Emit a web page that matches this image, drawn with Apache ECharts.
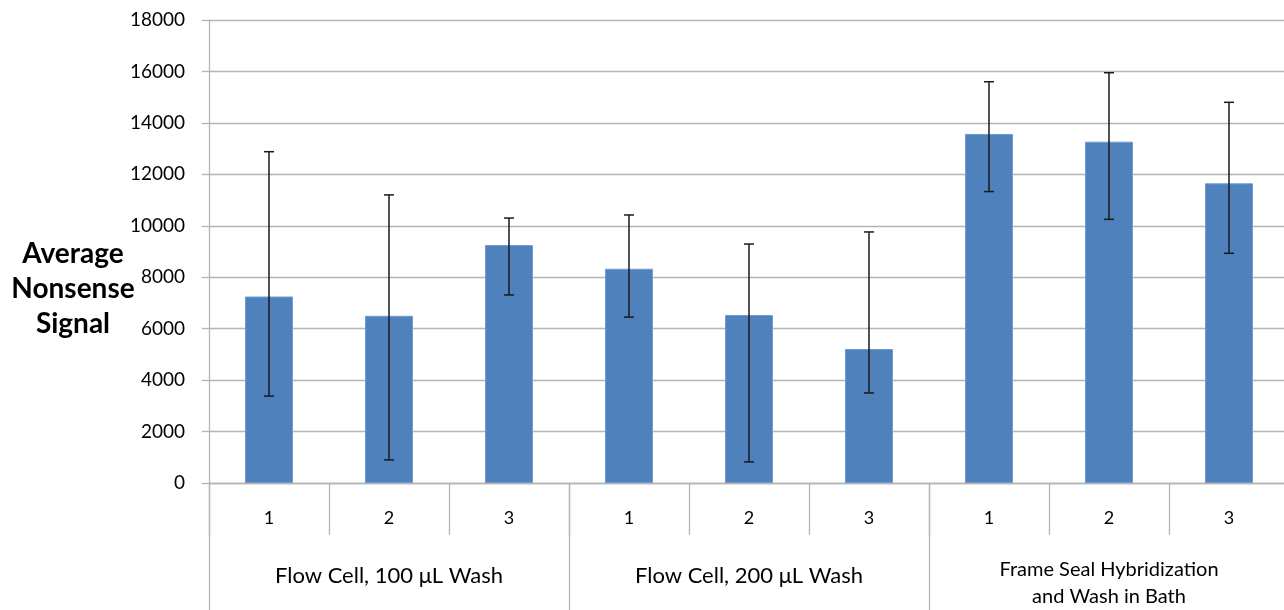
<!DOCTYPE html>
<html>
<head>
<meta charset="utf-8" />
<title></title>
<script type="text/javascript" src="https://cdn.jsdelivr.net/npm/echarts@6/dist/echarts.min.js"></script>
</head>
<body style="margin:0">
	<div id="chartmain" style="width: 1284px; height: 610px;"></div>
	<script type="text/javascript">
		// data
		var runs = ['1', '2', '3', '1', '2', '3', '1', '2', '3'];
		var groups = ['Flow Cell, 100 \u03bcL Wash', 'Flow Cell, 200 \u03bcL Wash', 'Frame Seal Hybridization\nand Wash in Bath'];
		var signal = [7250, 6500, 9250, 8330, 6530, 5210, 13570, 13270, 11650];
		var errHigh = [12880, 11200, 10300, 10420, 9290, 9760, 15600, 15950, 14800];
		var errLow = [3380, 900, 7310, 6450, 820, 3500, 11330, 10250, 8930];

		var grey = '#b4b4b4';

		var errData = signal.map(function (v, i) {
			return [i, errLow[i], errHigh[i]];
		});

		var option = {
			animation : false,
			grid : {
				left : 209,
				top : 20,
				width : 1080,
				height : 463,
				outerBoundsMode : 'none'
			},
			graphic : [ {
				type : 'text',
				x : 73,
				y : 236,
				style : {
					text : 'Average\nNonsense\nSignal',
					font : 'bold 28px Lato',
					lineHeight : 35,
					align : 'center',
					fill : '#000'
				}
			} ],
			xAxis : [ {
				type : 'category',
				data : runs,
				axisLine : { lineStyle : { color : grey, width : 1.3 } },
				axisTick : { show : true, length : 52, interval : 0, lineStyle : { color : grey, width : 1.3 } },
				axisLabel : { margin : 26, fontSize : 18, color : '#000', fontFamily : 'Lato' }
			}, {
				type : 'category',
				data : groups,
				position : 'bottom',
				axisLine : { show : false },
				axisTick : { show : true, length : 130, interval : 0, lineStyle : { color : grey, width : 1.3 } },
				axisLabel : {
					margin : 93,
					verticalAlign : 'middle',
					color : '#000',
					fontFamily : 'Lato',
					// two-line label sits a bit lower and smaller
					formatter : function (v) {
						if (v.indexOf('\n') < 0) return '{g|' + v + '}';
						return '{sp| }\n' + v.split('\n').map(function (s) { return '{s|' + s + '}'; }).join('\n');
					},
					rich : {
						g : { fontSize : 22, lineHeight : 27, fontFamily : 'Lato', color : '#000' },
						s : { fontSize : 20, lineHeight : 27, fontFamily : 'Lato', color : '#000' },
						sp : { fontSize : 8, lineHeight : 14 }
					}
				}
			} ],
			yAxis : [ {
				type : 'value',
				min : 0,
				max : 18000,
				interval : 2000,
				axisLine : { show : true, lineStyle : { color : grey, width : 1.3 } },
				axisTick : { show : true, length : 7, lineStyle : { color : grey, width : 1.3 } },
				axisLabel : { margin : 24, fontSize : 19, color : '#000', fontFamily : 'Lato', formatter : function (v) { return String(v); } },
				splitLine : { lineStyle : { color : grey, width : 1.3 } }
			} ],
			series : [ {
				type : 'bar',
				data : signal,
				barWidth : 48,
				itemStyle : { color : '#4f81bd', borderColor : '#6f9bd0', borderWidth : 1 }
			}, {
				type : 'custom',
				data : errData,
				z : 10,
				renderItem : function (params, api) {
					var lo = api.coord([api.value(0), api.value(1)]);
					var hi = api.coord([api.value(0), api.value(2)]);
					var cap = 5;
					var st = { stroke : '#1a1a1a', lineWidth : 1.5 };
					return {
						type : 'group',
						children : [
							{ type : 'line', shape : { x1 : hi[0], y1 : hi[1], x2 : lo[0], y2 : lo[1] }, style : st },
							{ type : 'line', shape : { x1 : hi[0] - cap, y1 : hi[1], x2 : hi[0] + cap, y2 : hi[1] }, style : st },
							{ type : 'line', shape : { x1 : lo[0] - cap, y1 : lo[1], x2 : lo[0] + cap, y2 : lo[1] }, style : st }
						]
					};
				}
			} ]
		};

		var myChart = echarts.init(document.getElementById('chartmain'));
		myChart.setOption(option);
	</script>
</body>
</html>
